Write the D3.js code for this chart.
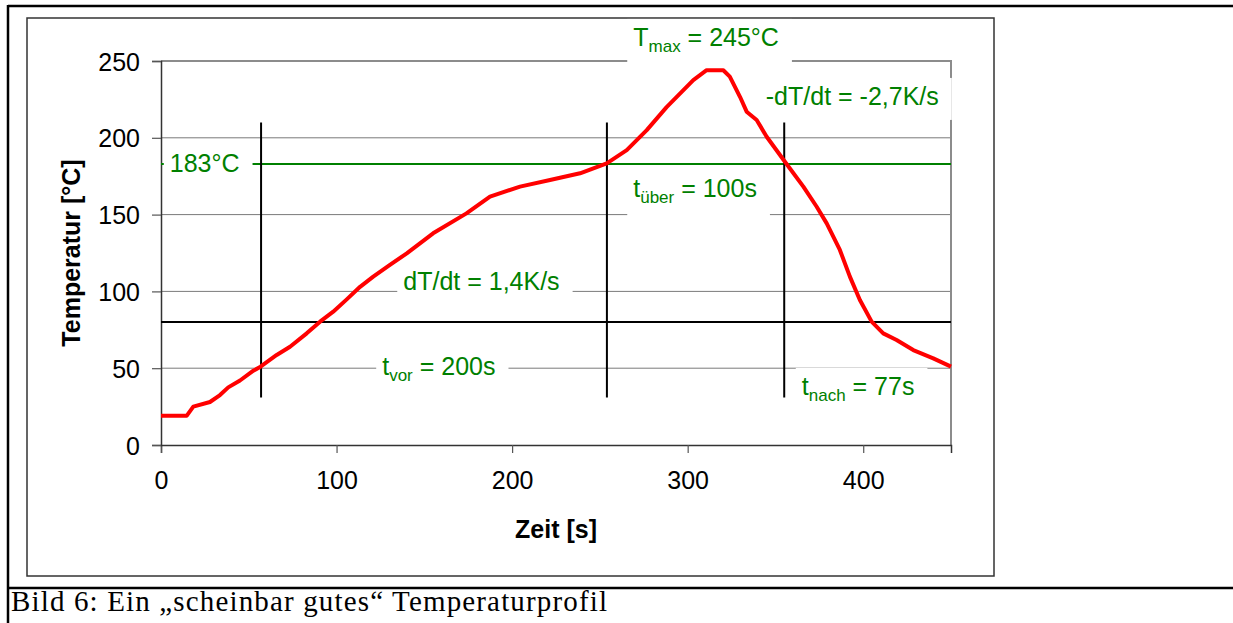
<!DOCTYPE html>
<html>
<head>
<meta charset="utf-8">
<script src="https://cdn.jsdelivr.net/npm/d3@7"></script>
<style>
  body { margin: 0; background: #fff; }
  svg { display: block; font-family: 'Liberation Sans', Arial, sans-serif; }
  .tick text { font-size: 25px; fill: #000; }
  .label { font-size: 25px; fill: #008000; }
  .title { font-size: 25px; font-weight: bold; }
  .caption { font-family: 'Liberation Serif', 'Times New Roman', serif; font-size: 29px; }
</style>
</head>
<body>
<svg width="1233" height="623"></svg>
<script>
const zeit = [0, 14.6, 18.4, 27.9, 33.6, 38.3, 45, 52.6, 56.7, 65.9, 73.5, 83, 90.6, 98.1, 105.8, 113.4,
  120.9, 130.4, 140, 155, 174, 187.4, 204.5, 221.6, 238.7, 253.9, 265.3, 276.7, 288, 303.2, 310.8,
  320.3, 324, 329.8, 333.6, 339.3, 345, 355.4, 365.9, 373.5, 379.2, 386.7, 392.4, 398.1, 404.8,
  411.4, 419, 428.5, 439.9, 450]
const temperatur = [19, 19, 25, 28, 32.5, 37.5, 42, 48.4, 51, 58.6, 64, 72.7, 80.3, 86.8, 94.8, 103,
  109.6, 117.2, 124.8, 137.8, 150.8, 161.7, 168.2, 172.5, 176.9, 183.4, 192, 205, 220, 237.6, 244,
  244, 239.8, 226.7, 217, 211.6, 200.7, 184.4, 168.2, 155.1, 144.3, 127, 109.6, 94.4, 80.3,
  72.7, 68.4, 61.8, 56.4, 51]
const xTicks = [0, 100, 200, 300, 400]
const yTicks = [0, 50, 100, 150, 200, 250]
const markZeit = [57, 254, 355]      // vertical markers
const markRange = [31, 210]
const vorLimit = 80
const liquidus = 183

// annotation labels: [main, subscript, rest, t, T (baseline)]
const labels = [
  ['183°C', '', '', 5, 177.7],
  ['T', 'max', ' = 245°C', 269, 259.8],
  ['-dT/dt = -2,7K/s', '', '', 344.5, 221.4],
  ['t', 'über', ' = 100s', 269, 161.5],
  ['dT/dt = 1,4K/s', '', '', 138, 100.9],
  ['t', 'vor', ' = 200s', 126, 45.6],
  ['t', 'nach', ' = 77s', 365, 32.6]
]

const svg = d3.select('svg')

// outer table + chart frame
svg.append('line').attr('x1', 8).attr('y1', 6).attr('x2', 1233).attr('y2', 6)
  .attr('stroke', '#000').attr('stroke-width', 2.5)
svg.append('line').attr('x1', 8).attr('y1', 5).attr('x2', 8).attr('y2', 623)
  .attr('stroke', '#000').attr('stroke-width', 2.5)
svg.append('line').attr('x1', 8).attr('y1', 588).attr('x2', 1233).attr('y2', 588)
  .attr('stroke', '#000').attr('stroke-width', 2.5)
svg.append('rect').attr('x', 27).attr('y', 18).attr('width', 967).attr('height', 558)
  .attr('fill', 'none').attr('stroke', '#333').attr('stroke-width', 1.5)

const x = d3.scaleLinear().domain([0, 450]).range([161, 951])
const y = d3.scaleLinear().domain([0, 250]).range([445, 61])

// grid
svg.append('g')
  .selectAll('line')
  .data(yTicks.slice(1, -1))
  .enter()
  .append('line')
  .attr('x1', x(0)).attr('x2', x(450))
  .attr('y1', d => y(d)).attr('y2', d => y(d))
  .attr('stroke', '#7a7a7a').attr('stroke-width', 1)

// plot area border top/right
svg.append('path')
  .attr('d', `M${x(0)},${y(250)}H${x(450)}V${y(0)}`)
  .attr('fill', 'none').attr('stroke', '#8c8c8c').attr('stroke-width', 2)

const xAxis = svg.append('g')
  .attr('transform', `translate(0, ${y(0)})`)
  .call(d3.axisBottom(x).tickValues(xTicks).tickSize(8).tickPadding(18))
const yAxis = svg.append('g')
  .attr('transform', `translate(${x(0)}, 0)`)
  .call(d3.axisLeft(y).tickValues(yTicks).tickSize(9).tickPadding(12))
;[xAxis, yAxis].forEach(a => {
  a.select('.domain').attr('stroke', '#333').attr('stroke-width', 1.5)
  a.selectAll('.tick line').attr('stroke', '#555').attr('stroke-width', 1.2)
  a.selectAll('.tick text').attr('font-family', null).attr('font-size', null)
})
yAxis.selectAll('.tick text').attr('dy', '0.36em')

// reference lines
svg.append('line')
  .attr('x1', x(0)).attr('x2', x(450))
  .attr('y1', y(liquidus)).attr('y2', y(liquidus))
  .attr('stroke', '#008000').attr('stroke-width', 2)
svg.append('line')
  .attr('x1', x(0)).attr('x2', x(450))
  .attr('y1', y(vorLimit)).attr('y2', y(vorLimit))
  .attr('stroke', '#000').attr('stroke-width', 2)
svg.append('g')
  .selectAll('line')
  .data(markZeit)
  .enter()
  .append('line')
  .attr('x1', d => x(d)).attr('x2', d => x(d))
  .attr('y1', y(markRange[0])).attr('y2', y(markRange[1]))
  .attr('stroke', '#000').attr('stroke-width', 2)

// profile
const line = d3.line()
  .x((d, i) => x(zeit[i]))
  .y(d => y(d))
svg.append('path')
  .datum(temperatur)
  .attr('d', line)
  .attr('fill', 'none')
  .attr('stroke', '#ff0000')
  .attr('stroke-width', 4)
  .attr('stroke-linejoin', 'round')

// annotations with white boxes
labels.forEach(([main, sub, rest, t, T]) => {
  const g = svg.append('g')
  const box = g.append('rect').attr('fill', '#fff')
  const txt = g.append('text')
    .attr('class', 'label')
    .attr('x', x(t))
    .attr('y', y(T))
  txt.append('tspan').text(main)
  if (sub) {
    txt.append('tspan').attr('font-size', 17).attr('dy', 6).text(sub)
    txt.append('tspan').attr('dy', -6).text(rest)
  }
  const bb = txt.node().getBBox()
  box.attr('x', bb.x - 6).attr('y', bb.y - 4)
    .attr('width', bb.width + 19).attr('height', bb.height + 14)
})

// axis titles
svg.append('text')
  .attr('class', 'title')
  .attr('x', x(225))
  .attr('y', 538)
  .attr('text-anchor', 'middle')
  .text('Zeit [s]')
svg.append('text')
  .attr('class', 'title')
  .attr('transform', `translate(80, ${y(125)}) rotate(-90)`)
  .attr('text-anchor', 'middle')
  .text('Temperatur [°C]')

svg.append('text')
  .attr('class', 'caption')
  .attr('x', 11)
  .attr('y', 611)
  .attr('textLength', 596)
  .attr('lengthAdjust', 'spacing')
  .text('Bild 6: Ein „scheinbar gutes“ Temperaturprofil')
</script>
</body>
</html>
